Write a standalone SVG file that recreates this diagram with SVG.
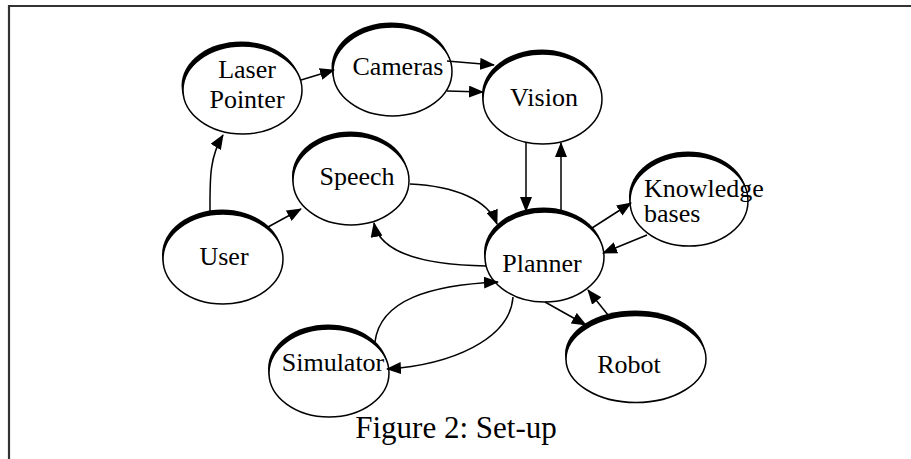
<svg xmlns="http://www.w3.org/2000/svg" width="911" height="459" viewBox="0 0 911 459">
<defs>
<marker id="ah" markerUnits="userSpaceOnUse" viewBox="0 0 15 12" markerWidth="15" markerHeight="12" refX="14" refY="6" orient="auto">
<path d="M0,0 L15,6 L0,12 z" fill="#000"/>
</marker>
<style>
.sh{fill:#000;stroke:none}
.nd{fill:#fff;stroke:#000;stroke-width:1.5}
.ed path{fill:none;stroke:#000;stroke-width:1.5;marker-end:url(#ah)}
.fr{fill:none;stroke:#333;stroke-width:2.2}
text.lb{font-family:"Liberation Serif","Times New Roman",serif !important;font-size:26px !important;fill:#000}
</style>
</defs>
<rect width="911" height="459" fill="#fff"/>
<path class="fr" d="M9,459 L9,6 L911,6"/>

<g id="laser">
<ellipse class="sh" cx="241" cy="85.5" rx="59.5" ry="44"/>
<ellipse class="nd" cx="242.5" cy="90" rx="59.5" ry="44"/>
<text class="lb" x="247" y="78" text-anchor="middle" style="font-family:'Liberation Serif',serif;font-size:26px">Laser</text>
<text class="lb" x="247" y="108" text-anchor="middle" style="font-family:'Liberation Serif',serif;font-size:26px">Pointer</text>
</g>
<g id="cameras">
<ellipse class="sh" cx="391" cy="67" rx="59.5" ry="44.5"/>
<ellipse class="nd" cx="392.5" cy="71.5" rx="59.5" ry="44.5"/>
<text class="lb" x="398" y="75" text-anchor="middle" style="font-family:'Liberation Serif',serif;font-size:26px">Cameras</text>
</g>
<g id="vision">
<ellipse class="sh" cx="541.5" cy="94.5" rx="59.5" ry="45"/>
<ellipse class="nd" cx="542.5" cy="99" rx="59.5" ry="45"/>
<text class="lb" x="544" y="106" text-anchor="middle" style="font-family:'Liberation Serif',serif;font-size:26px">Vision</text>
</g>
<g id="speech">
<ellipse class="sh" cx="350" cy="176" rx="58" ry="44.5"/>
<ellipse class="nd" cx="351" cy="180.5" rx="58" ry="44.5"/>
<text class="lb" x="357" y="185" text-anchor="middle" style="font-family:'Liberation Serif',serif;font-size:26px">Speech</text>
</g>
<g id="user">
<ellipse class="sh" cx="222" cy="254.5" rx="60" ry="45"/>
<ellipse class="nd" cx="223" cy="259" rx="60" ry="45"/>
<text class="lb" x="224" y="265" text-anchor="middle" style="font-family:'Liberation Serif',serif;font-size:26px">User</text>
</g>
<g id="planner">
<ellipse class="sh" cx="543.5" cy="252.5" rx="59.5" ry="45"/>
<ellipse class="nd" cx="544.5" cy="257" rx="59.5" ry="45"/>
<text class="lb" x="542" y="272" text-anchor="middle" style="font-family:'Liberation Serif',serif;font-size:26px">Planner</text>
</g>
<g id="knowledge">
<ellipse class="sh" cx="688" cy="196.5" rx="59" ry="45"/>
<ellipse class="nd" cx="689" cy="201" rx="59" ry="45"/>
<text class="lb" x="644" y="197" style="font-family:'Liberation Serif',serif;font-size:26px">Knowledge</text>
<text class="lb" x="644" y="222" style="font-family:'Liberation Serif',serif;font-size:26px">bases</text>
</g>
<g id="simulator">
<ellipse class="sh" cx="328" cy="368.5" rx="60" ry="44"/>
<ellipse class="nd" cx="329" cy="373" rx="60" ry="44"/>
<text class="lb" x="333" y="371" text-anchor="middle" style="font-family:'Liberation Serif',serif;font-size:26px">Simulator</text>
</g>
<g id="robot">
<ellipse class="sh" cx="635" cy="354" rx="70" ry="43.5"/>
<ellipse class="nd" cx="636" cy="359" rx="70" ry="43.5"/>
<text class="lb" x="629" y="373" text-anchor="middle" style="font-family:'Liberation Serif',serif;font-size:26px">Robot</text>
</g>

<g id="edges" class="ed">
<path d="M210,212 C210,180 209,158 223,135"/>
<path d="M268,227 L301,209"/>
<path d="M301,80 L334,70"/>
<path d="M447,61 L494,65"/>
<path d="M447,91 L483,92"/>
<path d="M526,143 L526,211"/>
<path d="M561,211 L561,143"/>
<path d="M410,184 C455,186 488,200 497,224"/>
<path d="M486,266 C430,265 380,255 374,223"/>
<path d="M592,228 L631,203"/>
<path d="M647,235 L603,253"/>
<path d="M545,302 L586,325"/>
<path d="M608,315 L588,290"/>
<path d="M375,342 C380,300 430,285 498,282"/>
<path d="M513,297 C510,340 450,365 387,369"/>
</g>

<text id="caption" x="456" y="438" text-anchor="middle" style="font-family:'Liberation Serif','Times New Roman',serif;font-size:31px;fill:#000">Figure 2: Set-up</text>
</svg>
